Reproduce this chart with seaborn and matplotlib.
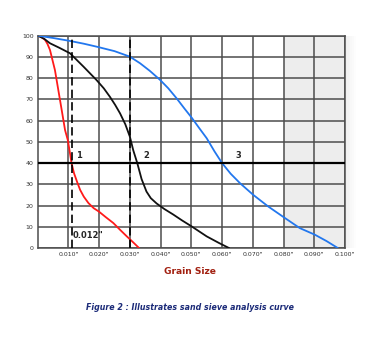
import numpy as np
import pandas as pd
import matplotlib
matplotlib.use("Agg")
import matplotlib.pyplot as plt
import seaborn as sns
from matplotlib.patches import Rectangle

# ---- data ----
red_x = [0.0, 0.0012, 0.0024, 0.0032, 0.0040, 0.0056, 0.0067, 0.0078, 0.0089, 0.0098, 0.0104, 0.0110, 0.0118, 0.0128, 0.0138, 0.0150, 0.0165, 0.0182, 0.0199, 0.0222, 0.0246, 0.0268, 0.0290, 0.0310, 0.0330]
red_y = [100, 99.3, 98, 96, 93.2, 83.8, 74.4, 65, 55.5, 50.8, 45.5, 40, 35.3, 31.2, 27.4, 24.2, 21.2, 18.8, 17.2, 14.5, 11.8, 8.6, 5.5, 2.8, 0]

black_x = [0.0, 0.0020, 0.0040, 0.0070, 0.0105, 0.0149, 0.0192, 0.0215, 0.0235, 0.0252, 0.0268, 0.0285, 0.0300, 0.0311, 0.0324, 0.0338, 0.0354, 0.0368, 0.0387, 0.0412, 0.0441, 0.0470, 0.0501, 0.0550, 0.0590, 0.0623]
black_y = [100, 98.6, 96.4, 94.3, 91.7, 85.4, 79, 75.2, 71.2, 67.4, 63.4, 58.3, 52.4, 46, 40, 32.5, 26.6, 23.5, 21, 18.4, 15.8, 13, 10.2, 5.5, 2.4, 0]

blue_x = [0.0, 0.0050, 0.0105, 0.0150, 0.0192, 0.0250, 0.0300, 0.0333, 0.0365, 0.0398, 0.0425, 0.0452, 0.0478, 0.0501, 0.0525, 0.0550, 0.0575, 0.0600, 0.0628, 0.0658, 0.0701, 0.0750, 0.0802, 0.0853, 0.0902, 0.0940, 0.0977]
blue_y = [100, 98.9, 97.5, 96.2, 94.8, 92.7, 90.1, 87, 83.4, 79.2, 75.2, 70.5, 65.6, 61.4, 56.6, 51.7, 45.6, 40, 35, 30.6, 25.1, 19.6, 14.4, 9.4, 6.3, 3.3, 0]

x_ticks = [0.01, 0.02, 0.03, 0.04, 0.05, 0.06, 0.07, 0.08, 0.09, 0.10]
x_tick_labels = ['0.010"', '0.020"', '0.030"', '0.040"', '0.050"', '0.060"', '0.070"', '0.080"', '0.090"', '0.100"']
y_ticks = [0, 10, 20, 30, 40, 50, 60, 70, 80, 90, 100]
ref_level = 40
dashed_x = [0.011, 0.030]
curve_labels = ["1", "2", "3"]
curve_label_x = [0.0125, 0.0345, 0.0645]
size_label = '0.012"'

frames = []
for name, xs, ys in [("1", red_x, red_y), ("2", black_x, black_y), ("3", blue_x, blue_y)]:
    frames.append(pd.DataFrame({"size": xs, "passing": ys, "curve": name}))
df = pd.concat(frames, ignore_index=True)

sns.set_style("white")
plt.rcParams['font.family'] = ['DejaVu Sans']

fig = plt.figure(figsize=(3.85, 3.46), dpi=100)
ax = fig.add_axes([0.098, 0.283, 0.798, 0.614])

# shaded band
ax.axvspan(0.08, 0.10, color="#ededed", zorder=0, lw=0)
for i, a in enumerate(np.linspace(0.8, 0.1, 6)):
    ax.add_patch(Rectangle((0.100 + i * 0.0006, 0), 0.0006, 100, transform=ax.transData,
                           color="#ededed", alpha=a, lw=0, clip_on=False, zorder=0))

ax.set_xlim(0, 0.1)
ax.set_ylim(0, 100)
ax.set_xticks(x_ticks)
ax.set_xticklabels(x_tick_labels)
ax.set_yticks(y_ticks)
ax.grid(True, color="#4d4d4d", lw=1.1, zorder=1)
ax.set_axisbelow(True)
for s in ax.spines.values():
    s.set_color("#4d4d4d")
    s.set_linewidth(1.1)
ax.tick_params(axis="both", length=0, labelsize=4.5, colors="#333333", pad=3)

sns.lineplot(data=df, x="size", y="passing", hue="curve", sort=False,
             palette={"1": "#ff1a1a", "2": "#111111", "3": "#2277ee"},
             lw=1.3, legend=False, ax=ax, zorder=3)

ax.axhline(ref_level, color="black", lw=1.6, zorder=4)
for dx in dashed_x:
    ax.axvline(dx, color="black", lw=1.2, ls=(0, (5, 2.5)), zorder=4)

for lab, lx in zip(curve_labels, curve_label_x):
    ax.text(lx, ref_level + 1.5, lab, fontsize=6, fontweight="bold", ha="left", va="bottom", zorder=5)
ax.text(0.0114, 6, size_label, fontsize=6, fontweight="bold", ha="left", va="center", zorder=5)

ax.set_xlabel("")
ax.set_ylabel("")

fig.text(0.493, 1 - 271 / 346, "Grain Size", color="#a22010", fontsize=6.6, fontweight="bold",
         ha="center", va="center")
fig.text(0.493, 1 - 307 / 346, "Figure 2 : Illustrates sand sieve analysis curve", color="#1b2a78",
         fontsize=5.7, fontweight="bold", style="italic", ha="center", va="center")

fig.savefig("out.png", dpi=100)
